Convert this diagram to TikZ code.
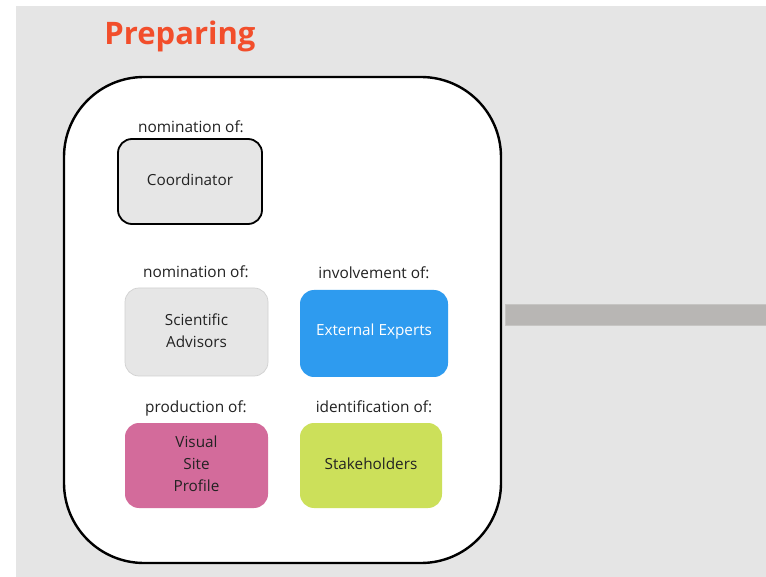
\documentclass[tikz,border=0pt]{standalone}
\usepackage{fontspec}
\setmainfont{Open Sans}
\definecolor{bggrey}{HTML}{E5E5E5}
\definecolor{boxgrey}{HTML}{E6E6E6}
\definecolor{titleorange}{HTML}{F24E2B}
\definecolor{expblue}{HTML}{2E9BEF}
\definecolor{vispink}{HTML}{D36B9B}
\definecolor{stakegreen}{HTML}{CCE05A}
\definecolor{bargrey}{HTML}{B8B6B4}
\definecolor{txt}{HTML}{222222}
\begin{document}
\begin{tikzpicture}[x=1pt,y=-1pt,
  item/.style={rounded corners=14pt,font=\fontsize{15.3}{22}\selectfont,text=txt,align=center},
  itemtext/.style={midway,yshift=1.5pt},
  lbl/.style={font=\fontsize{15.4}{17}\selectfont,text=txt,anchor=center}]
\useasboundingbox (0,0) rectangle (766,577);
\fill[white] (0,0) rectangle (766,577);
\fill[bggrey] (16,6) rectangle (766,577);
\node[font=\fontsize{31}{36}\selectfont\bfseries,text=titleorange] (title) at (180,36) {Preparing};
\draw[line width=2.4pt,fill=white,rounded corners=80pt] (64,77) rectangle (501,563);
\coordinate (frameE) at (501,314);
% grey bar
\fill[bargrey,draw=bargrey!80!white,line width=0.6pt] (505,304) rectangle (766,325);
% boxes
\draw[item,fill=boxgrey,draw=black,line width=1.8pt] (118,139) rectangle (262,224) node[itemtext] (coord) {Coordinator};
\node[lbl] (l1) at (191,127) {nomination of:};
\draw[item,fill=boxgrey,draw=black!18,line width=0.7pt] (125,288) rectangle (268,376) node[itemtext] (sci) {Scientific\\Advisors};
\node[lbl] (l2) at (196,272) {nomination of:};
\fill[item,fill=expblue] (300,290) rectangle (448,377) node[itemtext,text=white] (ext) {External Experts};
\node[lbl] (l3) at (374,273) {involvement of:};
\fill[item,fill=vispink] (125,423) rectangle (268,508) node[itemtext] (vis) {Visual\\Site\\Profile};
\node[lbl] (l4) at (196,408) {production of:};
\fill[item,fill=stakegreen] (300,423) rectangle (442,508) node[itemtext] (stake) {Stakeholders};
\node[lbl] (l5) at (374,407) {identification of:};
\end{tikzpicture}
\end{document}
